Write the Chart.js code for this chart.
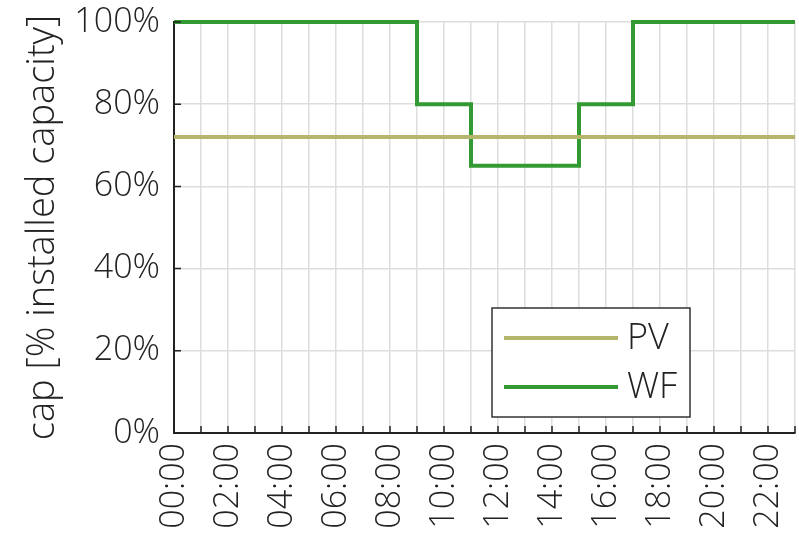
<!DOCTYPE html>
<html>
<head>
<meta charset="utf-8">
<script src="https://cdn.jsdelivr.net/npm/chart.js@4/dist/chart.umd.min.js"></script>
<style>
html,body{margin:0;padding:0;background:#fff;}
#wrap{width:799px;height:533px;position:relative;}
</style>
</head>
<body>
<div id="wrap"><canvas id="c" width="799" height="533"></canvas></div>
<script>
const hours = [0,1,2,3,4,5,6,7,8,9,10,11,12,13,14,15,16,17,18,19,20,21,22,23];
const hourLabels = ['00:00','01:00','02:00','03:00','04:00','05:00','06:00','07:00','08:00','09:00','10:00','11:00','12:00','13:00','14:00','15:00','16:00','17:00','18:00','19:00','20:00','21:00','22:00','23:00'];
const pvValues = [72,72,72,72,72,72,72,72,72,72,72,72,72,72,72,72,72,72,72,72,72,72,72,72];
const wfValues = [100,100,100,100,100,100,100,100,100,80,80,65,65,65,65,80,80,100,100,100,100,100,100,100];
const seriesNames = ['PV','WF'];
const seriesColors = ['#b5b56b','#339933'];
const yTickValues = [0,20,40,60,80,100];

const FONT = '"Open Sans", Lato, "DejaVu Sans", sans-serif';
const TXT = '#222222';

const inwardTicks = {
  id: 'inwardTicks',
  afterDatasetsDraw(chart) {
    const ctx = chart.ctx, xs = chart.scales.x, ys = chart.scales.y;
    ctx.save();
    ctx.strokeStyle = TXT;
    ctx.lineWidth = 1.5;
    ctx.beginPath();
    xs.ticks.forEach(t => {
      const px = xs.getPixelForValue(t.value);
      ctx.moveTo(px, xs.top);
      ctx.lineTo(px, xs.top - 7);
    });
    ys.ticks.forEach(t => {
      const py = ys.getPixelForValue(t.value);
      ctx.moveTo(ys.right, py);
      ctx.lineTo(ys.right + 7, py);
    });
    ctx.stroke();
    ctx.restore();
  }
};

const boxLegend = {
  id: 'boxLegend',
  afterDraw(chart) {
    const ctx = chart.ctx;
    const ca = chart.chartArea;
    const bx = ca.left + 318, by = ca.top + 286, bw = 198, bh = 109;
    ctx.save();
    ctx.fillStyle = '#ffffff';
    ctx.fillRect(bx, by, bw, bh);
    ctx.strokeStyle = '#333333';
    ctx.lineWidth = 1.5;
    ctx.strokeRect(bx, by, bw, bh);
    ctx.font = '300 36px ' + FONT;
    ctx.textBaseline = 'middle';
    ctx.fillStyle = TXT;
    chart.data.datasets.forEach((ds, i) => {
      const y = by + 30 + i * 49;
      ctx.strokeStyle = ds.borderColor;
      ctx.lineWidth = 4;
      ctx.beginPath();
      ctx.moveTo(bx + 12, y);
      ctx.lineTo(bx + 126, y);
      ctx.stroke();
      ctx.fillText(ds.label, bx + 135, y + 1);
    });
    ctx.restore();
  }
};

new Chart(document.getElementById('c'), {
  type: 'line',
  data: {
    datasets: [
      { label: seriesNames[0], data: hours.map((h,i)=>({x:h,y:pvValues[i]})), borderColor: seriesColors[0], backgroundColor: seriesColors[0], borderWidth: 4, pointRadius: 0, stepped: true, clip: 6 },
      { label: seriesNames[1], data: hours.map((h,i)=>({x:h,y:wfValues[i]})), borderColor: seriesColors[1], backgroundColor: seriesColors[1], borderWidth: 4, pointRadius: 0, stepped: true, clip: 6 }
    ]
  },
  options: {
    responsive: false,
    animation: false,
    layout: { padding: { top: 22, right: 4, left: 0, bottom: 0 } },
    plugins: { legend: { display: false }, tooltip: { enabled: false } },
    scales: {
      x: {
        type: 'linear',
        min: 0, max: 23,
        afterFit(s) { s.height = 100; s.paddingLeft = 0; s.paddingRight = 0; },
        afterBuildTicks(s) { s.ticks = hours.map(v => ({ value: v })); },
        grid: { color: '#dddddd', lineWidth: 1.5, drawTicks: false },
        border: { display: true, color: TXT, width: 2 },
        ticks: {
          autoSkip: false, minRotation: 90, maxRotation: 90, padding: 10,
          color: TXT, font: { family: FONT, size: 34, weight: 300 },
          callback: (v) => (v % 2 === 0 ? hourLabels[v] : '')
        }
      },
      y: {
        min: 0, max: 100,
        afterFit(s) { s.width = 174; s.paddingTop = 0; s.paddingBottom = 0; },
        afterBuildTicks(s) { s.ticks = yTickValues.map(v => ({ value: v })); },
        grid: { color: '#dddddd', lineWidth: 1.5, drawTicks: false },
        border: { display: true, color: TXT, width: 2 },
        title: { display: true, text: 'cap [% installed capacity]', color: TXT, font: { family: FONT, size: 38, weight: 300 }, padding: { top: 20, bottom: 0 } },
        ticks: {
          padding: 14, color: TXT, font: { family: FONT, size: 34, weight: 300 },
          callback: (v) => v + '%'
        }
      }
    }
  },
  plugins: [inwardTicks, boxLegend]
});
</script>
</body>
</html>
